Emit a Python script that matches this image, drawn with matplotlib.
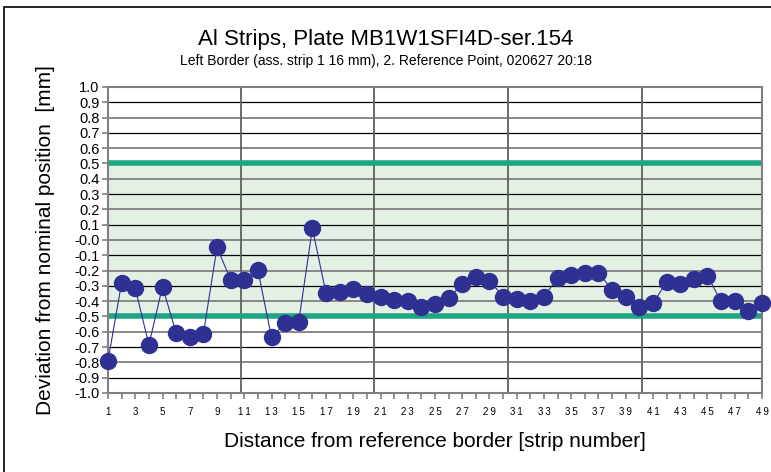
import matplotlib
matplotlib.use('Agg')
import matplotlib.pyplot as plt
import numpy as np

plt.rcParams['font.family'] = ['Liberation Sans', 'DejaVu Sans']

# strip numbers and measured deviations [mm]
strip = np.arange(1, 50)
deviation = [-0.79, -0.278, -0.315, -0.685, -0.304, -0.609, -0.635, -0.613, -0.048, -0.261,
             -0.261, -0.196, -0.637, -0.543, -0.533, 0.076, -0.348, -0.343, -0.322, -0.352,
             -0.37, -0.391, -0.398, -0.441, -0.42, -0.38, -0.289, -0.239, -0.265, -0.37,
             -0.385, -0.396, -0.37, -0.25, -0.228, -0.217, -0.213, -0.326, -0.37, -0.435,
             -0.413, -0.276, -0.287, -0.254, -0.235, -0.402, -0.398, -0.467, -0.409]
tol_low, tol_high = -0.5, 0.5
vgrid = [10.76, 20.5, 30.36, 40.2]
yticks = np.round(np.arange(-1.0, 1.01, 0.1), 1)

fig = plt.figure(figsize=(7.71, 4.72), dpi=100)
ax = fig.add_axes([0.1401, 0.1674, 0.8482, 0.6483])

ax.axhspan(tol_low, tol_high, color='#e4f0e4', zorder=0)
for i, yv in enumerate(yticks):
    if i % 2 == 0:
        ax.axhline(yv, color='#808080', lw=1.3, zorder=1)
    else:
        ax.axhline(yv, color='black', lw=0.9, zorder=1)
for xv in vgrid:
    ax.axvline(xv, color='#606060', lw=1.3, zorder=1)
ax.axhline(tol_high, color='#1ea582', lw=4, zorder=2)
ax.axhline(tol_low, color='#1ea582', lw=4, zorder=2)

ax.plot(strip, deviation, '-', color='#2e3192', lw=0.8, zorder=3, clip_on=False)
ax.plot(strip, deviation, 'o', color='#2e3192', ms=11.5, zorder=4, clip_on=False)

ax.set_xlim(1, 49)
ax.set_ylim(-1.0, 1.0)
ax.set_yticks(yticks)
ax.set_yticklabels([f'{v:.1f}' for v in yticks], fontsize=10.5)
ax.set_xticks(strip)
# spaced-out digits like the original
ax.set_xticklabels(['\u2009'.join(str(s)) if s % 2 == 1 else '' for s in strip], fontsize=7)
ax.tick_params(axis='both', direction='out', length=4, color='#808080', width=1.2)
ax.tick_params(axis='x', pad=6)
ax.tick_params(axis='y', pad=2)
for sp in ax.spines.values():
    sp.set_color('#808080')
    sp.set_linewidth(1.5)

ax.set_xlabel('Distance from reference border [strip number]', fontsize=15, labelpad=11)
ax.set_ylabel('Deviation from nominal position  [mm]', fontsize=15, labelpad=14)

fig.text(0.5, 1 - 40 / 472, 'Al Strips, Plate MB1W1SFI4D-ser.154', ha='center', va='center',
         fontsize=16)
fig.text(0.5, 1 - 61 / 472, 'Left Border (ass. strip 1 16 mm), 2. Reference Point, 020627 20:18',
         ha='center', va='center', fontsize=10)

fig.patches.append(plt.Rectangle((4 / 771, -0.1), 1.2, 1.1 - 7 / 472, transform=fig.transFigure,
                                 fill=False, edgecolor='black', lw=1.2))

fig.savefig('out.png', dpi=100)
